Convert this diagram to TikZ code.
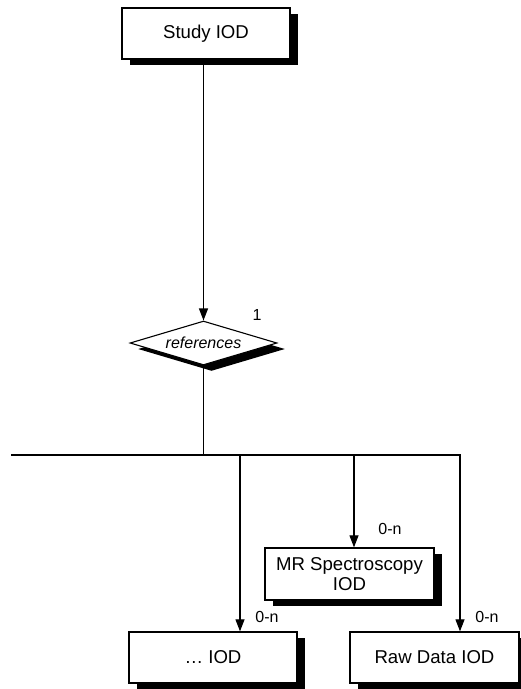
\documentclass[tikz,border=0pt]{standalone}
\usepackage{fontspec}
\setmainfont{Liberation Sans}
\usetikzlibrary{arrows.meta,shapes.geometric,shadows}
\begin{document}
\begin{tikzpicture}[x=1pt,y=1pt,
  shad/.style={drop shadow={shadow xshift=8pt,shadow yshift=-6pt,fill=black,opacity=1}},
  iod/.style={draw,line width=1.3pt,fill=white,shad,inner sep=0pt,align=center,
    font=\fontsize{18.6}{20.5}\selectfont},
  rel/.style={draw,line width=1.1pt,fill=white,shad,shape=diamond,shape aspect=3.3,inner sep=0pt,
    minimum width=147pt,minimum height=44pt,font=\fontsize{16}{18}\selectfont\itshape},
  conn/.style={line width=1.1pt},
  arr/.style={conn,-{Triangle[length=12pt,width=9pt]}},
  card/.style={font=\fontsize{16}{18}\selectfont,inner sep=0pt}]
\useasboundingbox (0,0) rectangle (521,-689);
\node[iod,minimum width=168pt,minimum height=51pt] (study) at (206,-33.5) {Study IOD};
\node[rel] (refs) at (203.5,-343) {references};
\node[card] (one) at (257,-315) {1};
\node[iod,minimum width=169pt,minimum height=52pt] (mr) at (349.5,-574) {MR Spectroscopy\\IOD};
\node[iod,minimum width=168pt,minimum height=51pt] (dots) at (213,-657.5) {\dots\ IOD};
\node[iod,minimum width=169pt,minimum height=51pt] (raw) at (434.5,-657.5) {Raw Data IOD};
\coordinate (hl) at (11,-455);
\coordinate (hj) at (203.5,-455);
\coordinate (hr) at (461,-455);
\coordinate (d1) at (240,-455);
\coordinate (d2) at (354,-455);
\coordinate (d3) at (460,-455);
\draw[arr] (study.south -| refs.north) -- (refs.north);
\draw[conn,line width=1.6pt] (refs.south) -- (hj);
\draw[conn] (hl) -- (hr);
\draw[arr] (d1) -- (d1 |- dots.north);
\draw[arr] (d2) -- (d2 |- mr.north);
\draw[arr] (d3) -- (d3 |- raw.north);
\node[card] (c1) at (267,-617) {0-n};
\node[card] (c2) at (390,-529) {0-n};
\node[card] (c3) at (487,-617) {0-n};
\end{tikzpicture}
\end{document}
